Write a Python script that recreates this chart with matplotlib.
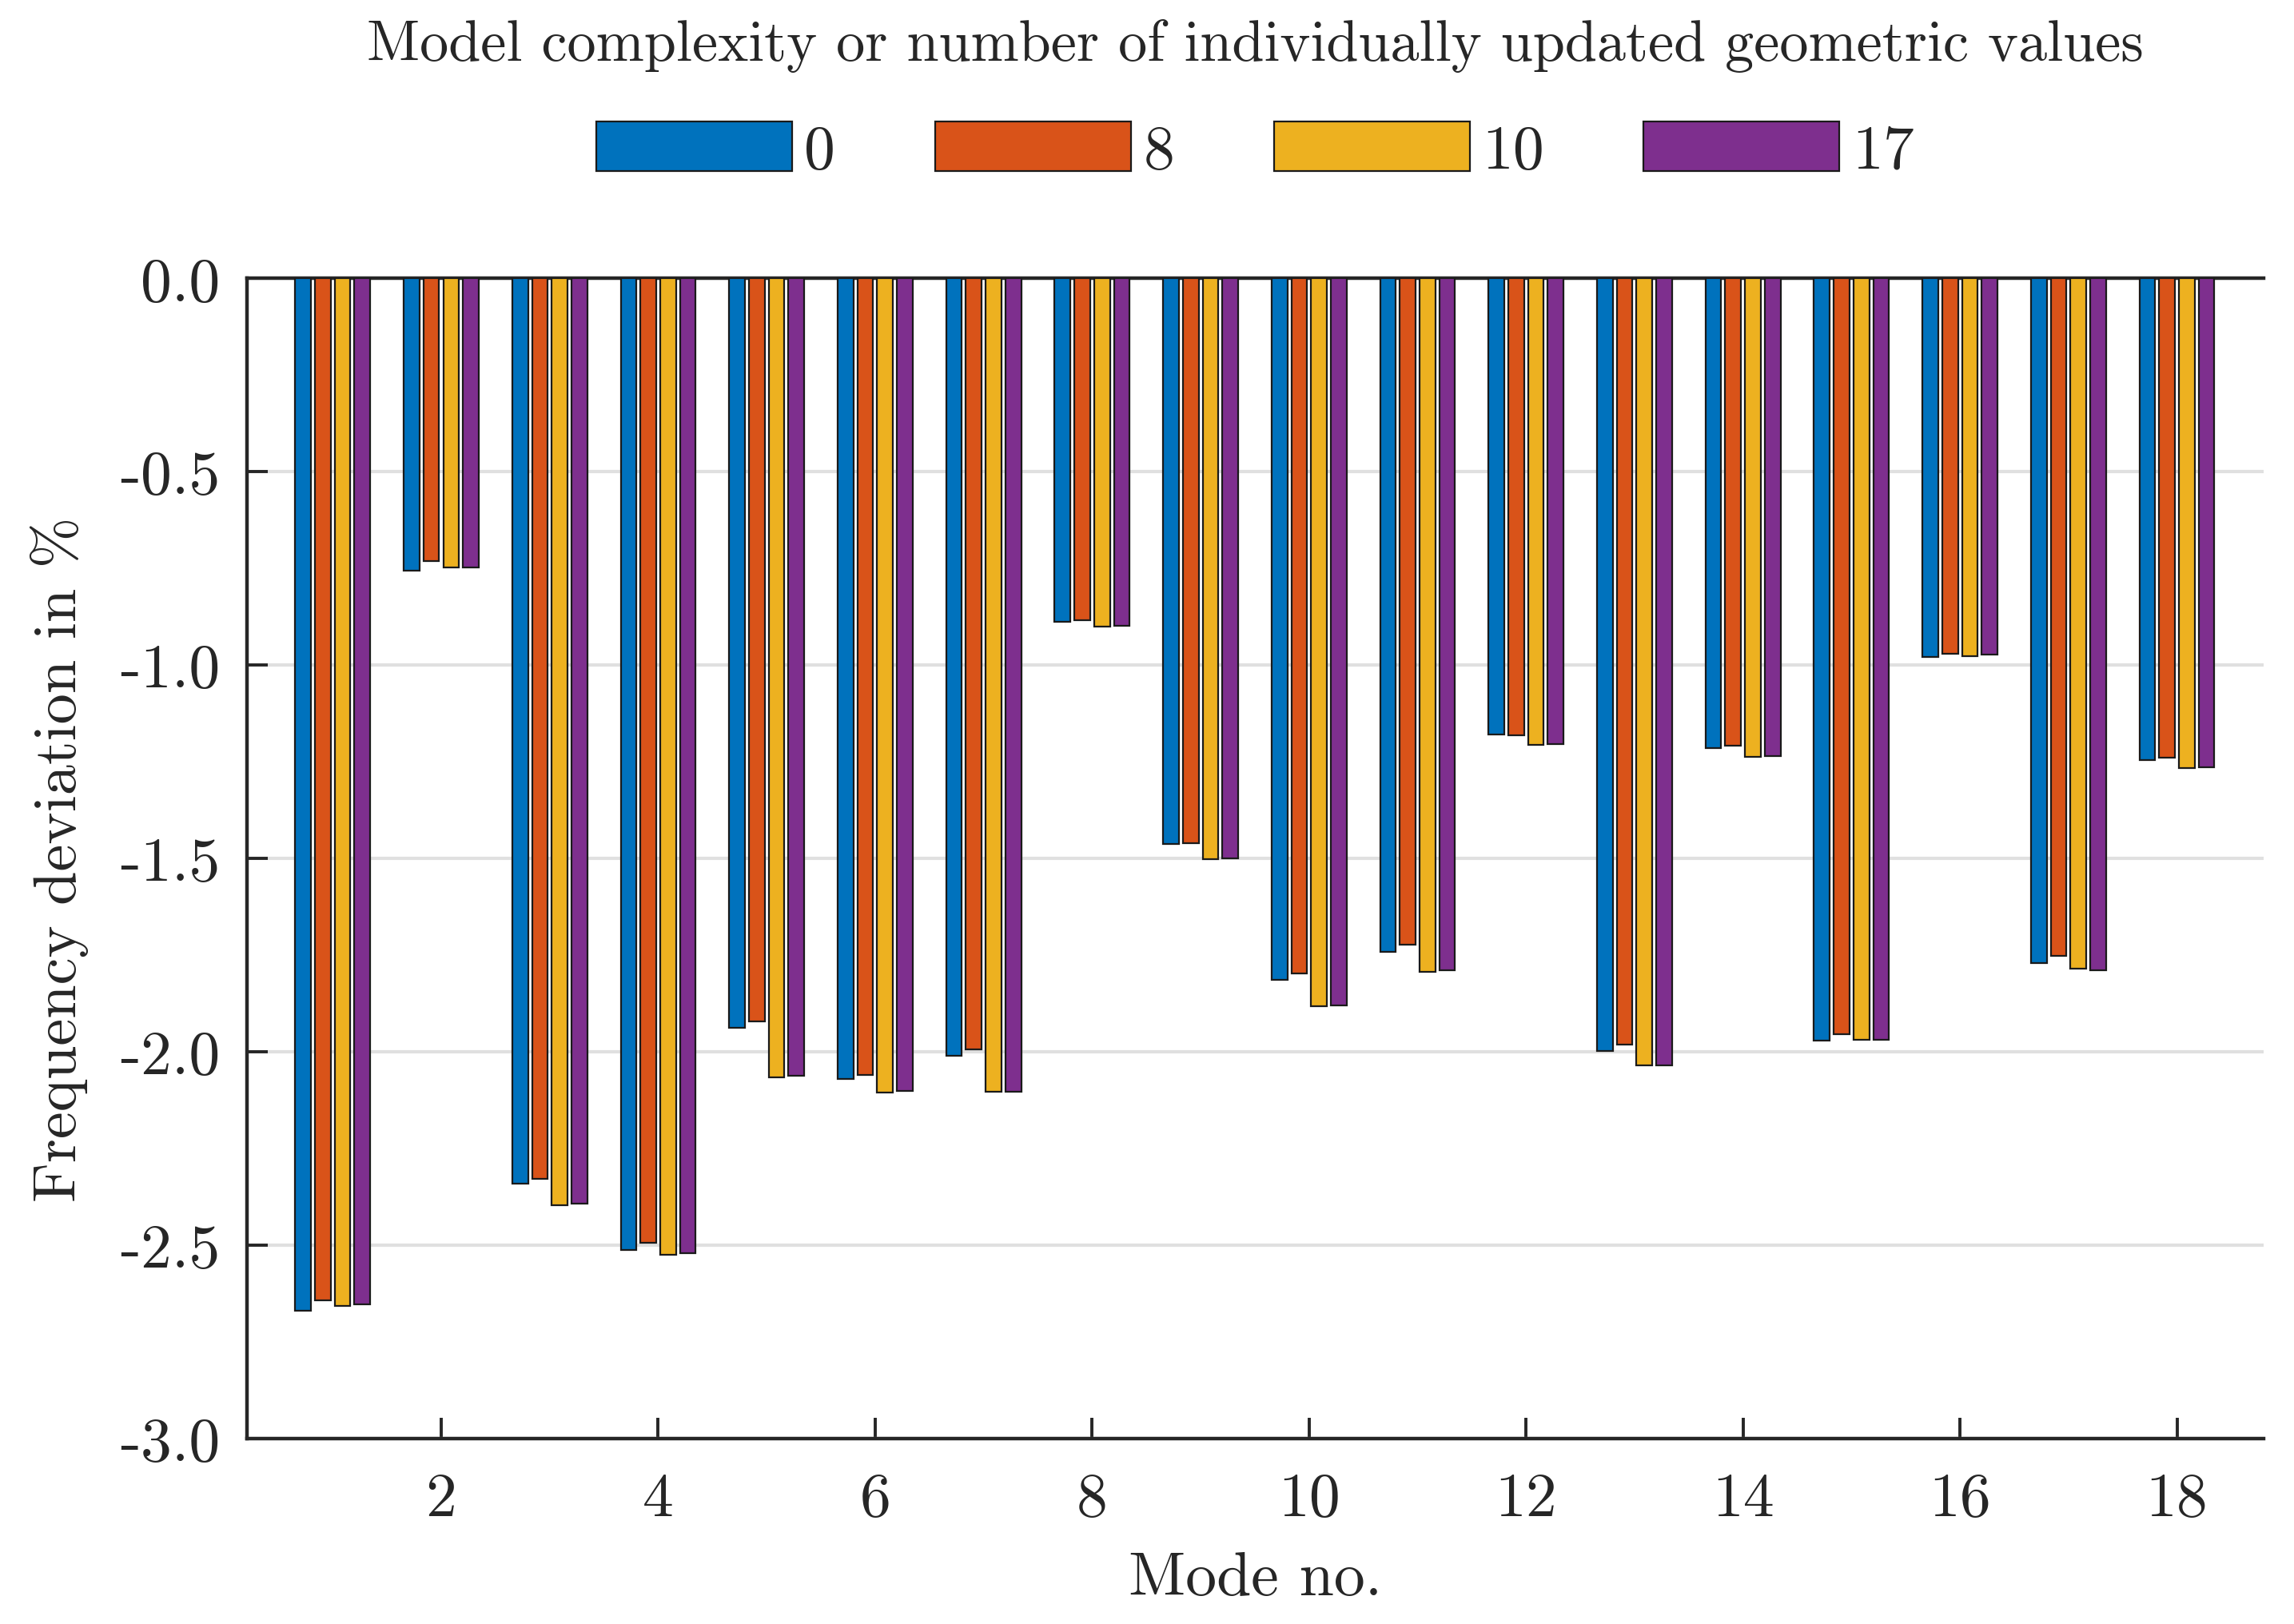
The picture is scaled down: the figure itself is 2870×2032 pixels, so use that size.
import matplotlib
matplotlib.use("Agg")
import matplotlib.pyplot as plt
import numpy as np

# --------------------------------------------------
# Data (frequency deviation in %)
# --------------------------------------------------
modes = np.arange(1, 19)
series_labels = ["0", "8", "10", "17"]

dev_0 = [-2.669, -0.755, -2.341, -2.512, -1.937, -2.069, -2.010, -0.888, -1.463,
         -1.814, -1.741, -1.180, -1.998, -1.214, -1.971, -0.978, -1.771, -1.245]
dev_8 = [-2.643, -0.731, -2.329, -2.494, -1.922, -2.059, -1.994, -0.884, -1.461,
         -1.798, -1.722, -1.182, -1.982, -1.208, -1.955, -0.971, -1.751, -1.239]
dev_10 = [-2.657, -0.747, -2.396, -2.524, -2.065, -2.104, -2.102, -0.900, -1.502,
          -1.882, -1.792, -1.206, -2.035, -1.237, -1.969, -0.976, -1.784, -1.265]
dev_17 = [-2.653, -0.747, -2.392, -2.520, -2.061, -2.100, -2.102, -0.898, -1.500,
          -1.880, -1.788, -1.204, -2.035, -1.235, -1.969, -0.973, -1.788, -1.263]

xticks = [2, 4, 6, 8, 10, 12, 14, 16, 18]
yticks = [0.0, -0.5, -1.0, -1.5, -2.0, -2.5, -3.0]
ytick_labels = ["0.0", "-0.5", "-1.0", "-1.5", "-2.0", "-2.5", "-3.0"]

colors = ["#0072BD", "#D95319", "#EDB120", "#7E2F8E"]
ink = "#262626"

# --------------------------------------------------
# Style
# --------------------------------------------------
plt.rcParams["font.family"] = "serif"
plt.rcParams["font.serif"] = ["cmr10", "DejaVu Serif"]
plt.rcParams["mathtext.fontset"] = "cm"
plt.rcParams["axes.unicode_minus"] = False
plt.rcParams["font.size"] = 28

fig = plt.figure(figsize=(14.35, 10.165), dpi=200)
ax = fig.add_axes([0.1075, 0.1141, 0.8793, 0.714])

# --------------------------------------------------
# Grouped bars
# --------------------------------------------------
slot = 0.182
width = 0.145
all_series = [dev_0, dev_8, dev_10, dev_17]
for i, (vals, lab, col) in enumerate(zip(all_series, series_labels, colors)):
    ax.bar(modes + (i - 1.5) * slot, vals, width=width, color=col,
           edgecolor="#1a1a1a", linewidth=0.8, label=lab, zorder=3)

ax.set_xlim(0.206, 18.8)
ax.set_ylim(-3.0, 0.0)
ax.set_xticks(xticks)
ax.set_yticks(yticks)
ax.set_yticklabels(ytick_labels)

ax.yaxis.grid(True, color="#e0e0e0", linewidth=1.5, zorder=0)
ax.set_axisbelow(True)

for side in ["left", "bottom", "top"]:
    ax.spines[side].set_linewidth(1.6)
    ax.spines[side].set_color(ink)
ax.spines["right"].set_visible(False)

ax.tick_params(direction="in", length=9.5, width=1.4, color=ink,
               labelcolor=ink, pad=12, labelsize=28)
ax.tick_params(axis="x", pad=15)
ax.tick_params(top=False, right=False)

ax.set_xlabel("Mode no.", color=ink, labelpad=11, fontsize=28)
ax.set_ylabel("Frequency deviation in %", color=ink, labelpad=14, fontsize=27.5)

leg = ax.legend(loc="lower center", bbox_to_anchor=(0.5, 1.037), ncol=4,
                frameon=False, title="Model complexity or number of individually updated geometric values",
                handlelength=3.15, handleheight=0.85, handletextpad=0.2,
                columnspacing=1.6, labelspacing=0.8, fontsize=28, title_fontsize=26)
leg.get_title().set_color(ink)
for t in leg.get_texts():
    t.set_color(ink)

fig.savefig("out.png", dpi=200)
